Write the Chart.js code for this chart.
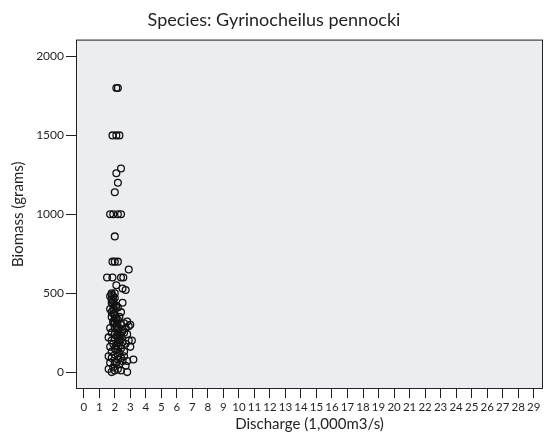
<!DOCTYPE html>
<html>
<head>
<meta charset="utf-8">
<script src="https://cdn.jsdelivr.net/npm/chart.js@4/dist/chart.umd.min.js"></script>
<style>
  html, body { margin: 0; padding: 0; background: #fff; }
  #wrap { width: 549px; height: 444px; }
</style>
</head>
<body>
<div id="wrap"><canvas id="chart" width="549" height="444"></canvas></div>
<script>
// values (discharge in 1,000 m3/s, biomass in grams)
const dischargeValues = [
  2.1, 2.2,
  1.85, 2.1, 2.3,
  2.4, 2.1, 2.2, 2.0,
  1.7, 1.9, 2.2, 2.4,
  2.0,
  1.85, 2.0, 2.2,
  2.9,
  1.5, 1.85, 2.4, 2.55,
  2.1, 2.5, 2.7,
  1.7, 1.8, 1.9, 2.0, 1.8, 2.1, 1.9, 2.2, 1.7, 2.4, 2.5, 2.0,
  1.8, 2.0, 2.2, 2.3, 2.6, 2.8, 3.0, 2.9, 1.9, 2.1, 2.4, 2.5, 1.7, 2.0, 2.2, 2.7, 1.8, 2.3,
  1.6, 1.8, 2.0, 2.2, 2.4, 2.6, 2.8, 2.9, 3.1, 2.5, 2.3, 1.9, 2.1, 2.7, 1.7, 2.0, 2.2, 2.4, 3.0, 1.8, 2.6,
  1.6, 1.8, 2.0, 2.2, 2.4, 2.6, 2.8, 3.2, 1.7, 2.1, 2.3, 2.5, 1.9, 2.0, 2.2, 1.8, 2.4, 2.8, 1.6, 2.7,
  1.8, 1.9, 1.8, 1.9, 2.0, 1.8, 1.9, 2.0, 2.1, 1.9, 2.0, 2.1, 2.2, 2.0, 2.1, 2.3, 2.2, 2.4, 2.1, 2.3, 2.2, 2.0
];
const biomassValues = [
  1800, 1800,
  1500, 1500, 1500,
  1290, 1260, 1200, 1140,
  1000, 1000, 1000, 1000,
  860,
  700, 700, 700,
  650,
  600, 600, 600, 600,
  550, 530, 520,
  480, 460, 450, 500, 500, 420, 400, 410, 400, 380, 440, 470,
  350, 340, 330, 350, 310, 320, 300, 290, 310, 300, 300, 260, 280, 280, 270, 280, 250, 240,
  220, 200, 210, 220, 230, 250, 240, 200, 200, 190, 200, 180, 170, 180, 160, 150, 160, 150, 160, 130, 130,
  100, 90, 110, 100, 90, 100, 70, 80, 60, 60, 50, 70, 30, 10, 20, 0, 10, 0, 20, 40,
  490, 480, 440, 430, 420, 380, 370, 360, 340, 320, 310, 290, 280, 240, 230, 210, 190, 170, 140, 120, 80, 60
];
const xTickValues = Array.from({ length: 30 }, (_, i) => i);
const yTickValues = [0, 500, 1000, 1500, 2000];

const points = dischargeValues.map((x, i) => ({ x: x, y: biomassValues[i] }));

const fontFamily = "Lato, 'Open Sans', sans-serif";

// grey plot box with a dark frame
const plotBox = {
  id: "plotBox",
  beforeDatasetsDraw(chart) {
    const { ctx, chartArea: a } = chart;
    ctx.save();
    ctx.fillStyle = "#ecedf0";
    ctx.fillRect(a.left, a.top, a.right - a.left, a.bottom - a.top);
    ctx.strokeStyle = "#222";
    ctx.lineWidth = 1;
    ctx.strokeRect(a.left + 0.5, a.top + 0.5, a.right - a.left - 1, a.bottom - a.top - 1);
    ctx.restore();
  }
};

new Chart(document.getElementById("chart"), {
  type: "scatter",
  data: {
    datasets: [{
      data: points,
      pointStyle: "circle",
      pointRadius: 3.4,
      pointBorderWidth: 1.3,
      pointBorderColor: "#111",
      pointBackgroundColor: "rgba(0,0,0,0)",
      pointHoverRadius: 3.4
    }]
  },
  options: {
    responsive: false,
    animation: false,
    layout: { padding: { left: 5, right: 6, top: 0, bottom: 7 } },
    plugins: {
      legend: { display: false },
      tooltip: { enabled: false },
      title: {
        display: true,
        text: "Species: Gyrinocheilus pennocki",
        color: "#231f20",
        font: { family: fontFamily, size: 18, weight: "normal" },
        padding: { top: 9, bottom: 9 }
      }
    },
    scales: {
      x: {
        type: "linear",
        min: -0.5,
        max: 29.6,
        afterBuildTicks: (s) => { s.ticks = xTickValues.map((v) => ({ value: v })); },
        afterFit: (s) => { s.height = 48; },
        border: { display: false },
        grid: { drawOnChartArea: false, tickLength: 9, tickColor: "#231f20", lineWidth: 1 },
        ticks: {
          autoSkip: false,
          maxRotation: 0,
          padding: 2,
          color: "#231f20",
          font: { family: fontFamily, size: 11.5 }
        },
        title: {
          display: true,
          text: "Discharge (1,000m3/s)",
          color: "#231f20",
          font: { family: fontFamily, size: 15 },
          padding: { top: 3 }
        }
      },
      y: {
        type: "linear",
        min: -107,
        max: 2107,
        afterBuildTicks: (s) => { s.ticks = yTickValues.map((v) => ({ value: v })); },
        afterFit: (s) => { s.width = 71; },
        border: { display: false },
        grid: { drawOnChartArea: false, tickLength: 10, tickColor: "#231f20", lineWidth: 1 },
        ticks: {
          padding: 2,
          color: "#231f20",
          font: { family: fontFamily, size: 12 },
          callback: (v) => String(v)
        },
        title: {
          display: true,
          text: "Biomass (grams)",
          color: "#231f20",
          font: { family: fontFamily, size: 15 },
          padding: { bottom: 2 }
        }
      }
    }
  },
  plugins: [plotBox]
});
</script>
</body>
</html>
